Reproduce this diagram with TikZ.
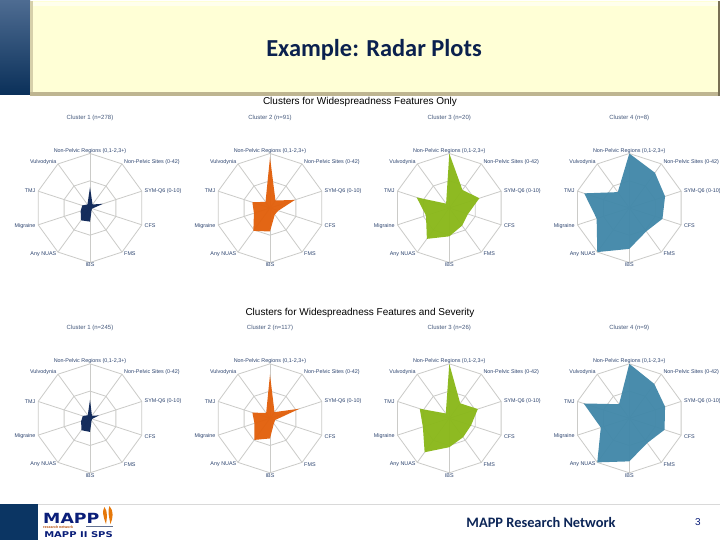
\documentclass[tikz,border=0pt]{standalone}
\usepackage{fontspec}
\setmainfont{Liberation Sans}
\newfontfamily\calib{Carlito}
\newfontfamily\logofont{DejaVu Sans}
\definecolor{navyc}{HTML}{0C2557}
\definecolor{orangec}{HTML}{E2600C}
\definecolor{greenc}{HTML}{8AB81A}
\definecolor{bluec}{HTML}{4288A9}
\definecolor{gridc}{HTML}{CBCBC8}
\definecolor{labc}{HTML}{2E4570}
\definecolor{capc}{HTML}{45597C}
\definecolor{creamc}{HTML}{FFFFD6}
\definecolor{barc}{HTML}{0B3563}
\definecolor{bartop}{RGB}{78,108,146}
\definecolor{edgeleft}{RGB}{214,208,170}
\definecolor{edgebottom}{RGB}{190,181,145}
\definecolor{edgeright}{RGB}{120,112,85}
\tikzset{
  axlab/.style={font=\fontsize{5.4}{6.5}\selectfont,text=labc,inner sep=0pt},
  plotcap/.style={font=\fontsize{6}{7}\selectfont,text=capc,inner sep=0pt},
  headtext/.style={font=\fontsize{10}{12}\selectfont,text=black,inner sep=0pt},
  radargrid/.style={draw=gridc,line width=.8pt},
}
\newcommand{\radarplot}[7]{% id cx cy caption colour topvalue others
  \foreach \k in {0,...,9}{
    \draw[radargrid] (#2,#3) -- ({#2+54.5*sin(\k*36)},{#3-54.5*cos(\k*36)});
  }
  \draw[radargrid] (#2,{#3-54.5}) \foreach \k in {1,...,9}{ -- ({#2+54.5*sin(\k*36)},{#3-54.5*cos(\k*36)}) } -- cycle;
  \draw[radargrid] (#2,{#3-27.2}) \foreach \k in {1,...,9}{ -- ({#2+27.2*sin(\k*36)},{#3-27.2*cos(\k*36)}) } -- cycle;
  \fill[#5,fill opacity=.96] (#2,{#3-#6*54.5}) \foreach \vv [count=\i from 1] in {#7}{ -- ({#2+\vv*54.5*sin(\i*36)},{#3-\vv*54.5*cos(\i*36)}) } -- cycle;
  \node[plotcap] (#1-cap) at (#2,#3-90) {#4};
  \node[axlab] (#1-a) at (#2,#3-57) {Non-Pelvic Regions (0,1-2,3+)};
  \node[axlab,anchor=west] (#1-b) at (#2+34,#3-46) {Non-Pelvic Sites (0-42)};
  \node[axlab,anchor=west] (#1-c) at (#2+54.5,#3-17) {SYM-Q6 (0-10)};
  \node[axlab,anchor=west] (#1-d) at (#2+54.5,#3+18) {CFS};
  \node[axlab,anchor=west] (#1-e) at (#2+34,#3+46) {FMS};
  \node[axlab] (#1-f) at (#2,#3+57) {IBS};
  \node[axlab,anchor=east] (#1-g) at (#2-33.5,#3+46) {Any NUAS};
  \node[axlab,anchor=east] (#1-h) at (#2-54.5,#3+18) {Migraine};
  \node[axlab,anchor=east] (#1-i) at (#2-54.5,#3-17) {TMJ};
  \node[axlab,anchor=east] (#1-j) at (#2-33.5,#3-46) {Vulvodynia};
}
\begin{document}
\begin{tikzpicture}[x=1pt,y=-1pt]
\useasboundingbox (0,0) rectangle (720,540);
\fill[white] (0,0) rectangle (720,540);
% header
\shade[top color=bartop,bottom color=barc!90!black] (0,0) rectangle (30,95);
\fill[creamc] (30,1) rectangle (720,95);
\fill[white!55!creamc] (32,2) rectangle (720,6);
\fill[edgeleft] (30,1) rectangle (33,95);
\fill[edgebottom] (30,92.5) rectangle (720,96);
\fill[edgeright] (717.5,1) rectangle (720,96);
\node[font=\calib\bfseries\fontsize{24.4}{28}\selectfont,text=navyc!90!black,inner sep=0pt] (title) at (374,50) {Example: Radar Plots};
% section heads
\node[headtext] (h1) at (360,102) {Clusters for Widespreadness Features Only};
\node[headtext] (h2) at (360,313) {Clusters for Widespreadness Features and Severity};
% row 1
\radarplot{ra}{90}{208}{Cluster 1 (n=278)}{navyc}{.38}{.08,.25,.04,.05,.25,.28,.18,.15,.08}
\radarplot{rb}{270}{208}{Cluster 2 (n=91)}{orangec}{.93}{.17,.48,.16,.15,.43,.52,.31,.34,.14}
\radarplot{rc}{449.3}{208}{Cluster 3 (n=20)}{greenc}{1}{.41,.58,.36,.40,.52,.70,.45,.63,.10}
\radarplot{rd}{629.3}{208}{Cluster 4 (n=8)}{bluec}{1}{.80,.69,.64,.53,.75,1,.63,.87,.36}
% row 2
\radarplot{sa}{90}{418.3}{Cluster 1 (n=245)}{navyc}{.34}{.06,.17,.04,.05,.25,.27,.17,.14,.07}
\radarplot{sb}{270}{418.3}{Cluster 2 (n=117)}{orangec}{.80}{.14,.57,.10,.12,.37,.49,.30,.34,.12}
\radarplot{sc}{449.3}{418.3}{Cluster 3 (n=26)}{greenc}{1}{.34,.55,.42,.43,.53,.77,.51,.57,.11}
\radarplot{sd}{629.3}{418.3}{Cluster 4 (n=9)}{bluec}{1}{.78,.69,.68,.56,.79,1,.55,.88,.32}
% footer
\fill[barc] (0,504) rectangle (38,540);
\draw[gray!30,line width=.6pt] (38,504.2) -- (720,504.2);
\node[font=\logofont\bfseries\fontsize{14}{15}\selectfont,text=navyc!80!blue,inner sep=0pt,anchor=base west,xscale=1.24] (logo1) at (43,523.5) {MAPP};
\fill[orangec!85!yellow] (104.5,507) .. controls (102,511) and (103,516) .. (106,524) .. controls (107,518) and (108,512) .. cycle;
\fill[orangec!85!yellow] (109.5,506) .. controls (107.5,511) and (109,517) .. (110.5,524) .. controls (113,518) and (114,511) .. cycle;
\fill[navyc!65!white] (86,526) rectangle (113,527);
\node[font=\fontsize{3.6}{4}\selectfont\bfseries,text=orangec!80!black,inner sep=0pt,anchor=base west] (logo2) at (43,528.5) {research network};
\node[font=\logofont\bfseries\fontsize{8}{9}\selectfont,text=navyc!80!blue,inner sep=0pt,anchor=base west,xscale=1.25] (logo3) at (44,537.5) {MAPP II SPS};
\node[font=\calib\bfseries\fontsize{14.4}{16}\selectfont,text=navyc,inner sep=0pt] (foot) at (541,522.5) {MAPP Research Network};
\node[font=\fontsize{10}{12}\selectfont,text=navyc!80!blue,inner sep=0pt] (page) at (698,522) {3};
\end{tikzpicture}
\end{document}
